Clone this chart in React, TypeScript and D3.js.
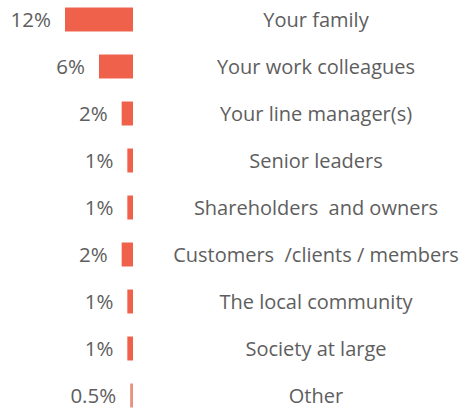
import React from "react";
import * as d3 from "d3";

const categories = [
  "Your family",
  "Your work colleagues",
  "Your line manager(s)",
  "Senior leaders",
  "Shareholders  and owners",
  "Customers  /clients / members",
  "The local community",
  "Society at large",
  "Other",
];
const values = [12, 6, 2, 1, 1, 2, 1, 1, 0.5];
const valueLabels = ["12%", "6%", "2%", "1%", "1%", "2%", "1%", "1%", "0.5%"];

const W = 462;
const H = 409;
const baseX = 133;
const barColor = "#EF614A";
const textColor = "#5E5E5E";
const font = "'Open Sans', sans-serif";

export default function App() {
  const y = d3
    .scaleBand<number>()
    .domain(d3.range(categories.length))
    .range([-4, 419])
    .paddingInner(0.49)
    .paddingOuter(0.245);
  const w = d3.scaleLinear().domain([0, 12]).range([0, 68]);
  return (
    <svg
      width={W}
      height={H}
      style={{ position: "absolute", left: 0, top: 0, background: "#fff" }}
    >
      {categories.map((c, i) => {
        const yy = y(i)!;
        const bw = Math.max(w(values[i]), 1.5);
        const cy = yy + y.bandwidth() / 2;
        return (
          <g key={c}>
            <rect
              x={baseX - bw}
              y={yy}
              width={bw}
              height={y.bandwidth()}
              fill={values[i] < 1 ? "#E8917F" : barColor}
            />
            <text
              x={baseX - bw - 14}
              y={cy}
              dy="0.36em"
              textAnchor="end"
              fontFamily={font}
              fontSize={20.5}
              fill={textColor}
            >
              {valueLabels[i]}
            </text>
            <text
              x={316}
              y={cy}
              dy="0.36em"
              textAnchor="middle"
              fontFamily={font}
              fontSize={20}
              fill={textColor}
              style={{ whiteSpace: "pre" }}
            >
              {c}
            </text>
          </g>
        );
      })}
    </svg>
  );
}
